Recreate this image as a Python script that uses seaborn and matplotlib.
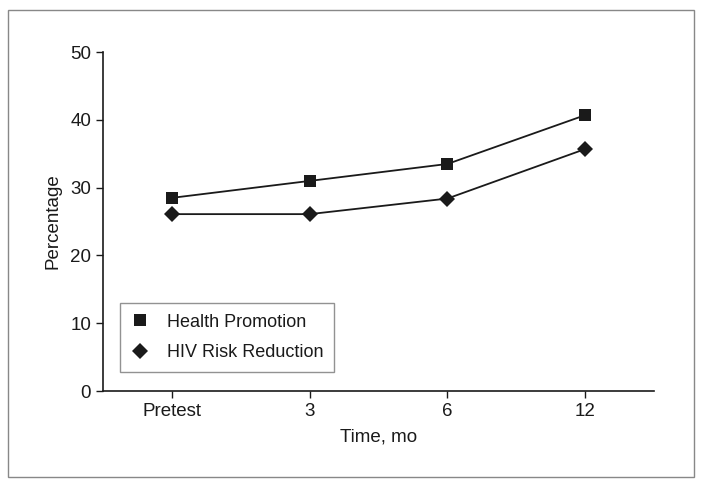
import matplotlib
matplotlib.use("Agg")
import matplotlib.pyplot as plt
from matplotlib.patches import Rectangle
import pandas as pd
import seaborn as sns

# Data
time_points = ["Pretest", "3", "6", "12"]
health_promotion = [28.5, 31.0, 33.5, 40.7]
hiv_risk_reduction = [26.1, 26.1, 28.4, 35.7]
y_ticks = [0, 10, 20, 30, 40, 50]

df = pd.DataFrame({
    "Time": time_points * 2,
    "Percentage": health_promotion + hiv_risk_reduction,
    "Group": ["Health Promotion"] * 4 + ["HIV Risk Reduction"] * 4,
})

sns.set_style("white")
plt.rcParams["font.family"] = ["Liberation Sans", "DejaVu Sans"]
plt.rcParams["text.color"] = "#1a1a1a"

fig = plt.figure(figsize=(7.01, 4.87), dpi=100)
ax = fig.add_axes([0.147, 0.197, 0.786, 0.696])

sns.lineplot(
    data=df, x="Time", y="Percentage", style="Group",
    markers={"Health Promotion": "s", "HIV Risk Reduction": "D"},
    dashes=False, color="#1a1a1a", linewidth=1.3,
    markersize=8.5, markeredgewidth=0, sort=False, ax=ax,
)

ax.set_xlim(-0.5, 3.5)
ax.set_ylim(0, 50)
ax.set_yticks(y_ticks)
ax.set_xlabel("Time, mo", fontsize=13.5, labelpad=6, color="#1a1a1a")
ax.set_ylabel("Percentage", fontsize=13.5, labelpad=6, color="#1a1a1a")
ax.tick_params(axis="both", direction="out", length=5, width=1, labelsize=13.5,
               color="#1a1a1a", labelcolor="#1a1a1a", left=True, bottom=True)
ax.spines["top"].set_visible(False)
ax.spines["right"].set_visible(False)
for s in ["left", "bottom"]:
    ax.spines[s].set_color("#1a1a1a")
    ax.spines[s].set_linewidth(1.2)

handles, labels = ax.get_legend_handles_labels()
for h in handles:
    h.set_linestyle("none")
leg = ax.legend(
    handles, labels, loc="lower left", bbox_to_anchor=(0.031, 0.056),
    borderaxespad=0, fontsize=13, frameon=True, fancybox=False,
    handlelength=1.0, handletextpad=1.0, borderpad=0.6, labelspacing=0.75,
)
leg.get_frame().set_edgecolor("#777777")
leg.get_frame().set_linewidth(1.0)

# Outer frame around the whole figure
fig.patches.append(Rectangle((8 / 701, 10 / 487), 686 / 701, 467 / 487,
                             transform=fig.transFigure, fill=False,
                             edgecolor="#888888", linewidth=1.0))

fig.savefig("out.png", dpi=100)
